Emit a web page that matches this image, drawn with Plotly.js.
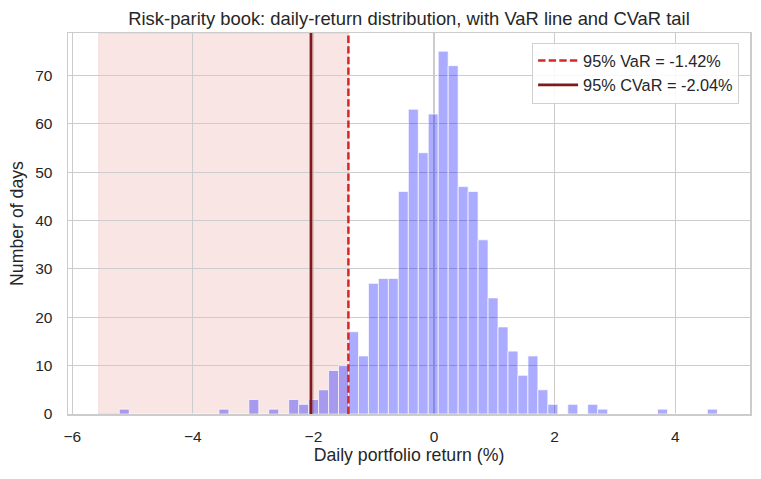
<!DOCTYPE html>
<html>
<head>
<meta charset="utf-8">
<script src="https://cdn.plot.ly/plotly-3.0.1.min.js"></script>
<style>html,body{margin:0;padding:0;background:#fff;}#chart{width:761px;height:479px;}</style>
</head>
<body>
<div id="chart"></div>
<script>
// Histogram: 60 equal-width bins of daily returns (%)
const binStart = -5.22;
const binWidth = 0.1653;
const binCounts = [
  1, 0, 0, 0, 0, 0, 0, 0, 0, 0,
  1, 0, 0, 3, 0, 1, 0, 3, 2, 3,
  5, 9, 10, 17, 12, 27, 28, 28, 46, 63,
  54, 62, 75, 72, 47, 46, 36, 24, 18, 13,
  8, 12, 5, 2, 0, 2, 0, 2, 1, 0,
  0, 0, 0, 0, 1, 0, 0, 0, 0, 1
];
const varLevel = -1.42;
const cvarLevel = -2.04;
const tailShadeStart = -5.56;
const legendLabels = ["95% VaR = -1.42%", "95% CVaR = -2.04%"];
const xTicks = [-6, -4, -2, 0, 2, 4];
const yTicks = [0, 10, 20, 30, 40, 50, 60, 70];
const xRange = [-6.07, 5.24];
const yRange = [0, 78.75];

const binCenters = binCounts.map((_, k) => binStart + binWidth * (k + 0.5));
const font = "Liberation Sans, Arial, sans-serif";
const txt = "#262626";

const traces = [
  {
    type: "bar",
    x: binCenters,
    y: binCounts,
    width: binWidth,
    marker: {color: "rgba(0,0,255,0.33)", line: {color: "rgba(255,255,255,0.7)", width: 1}},
    showlegend: false,
    hoverinfo: "x+y"
  },
  {
    type: "scatter", mode: "lines",
    x: [varLevel, varLevel], y: yRange,
    line: {color: "#d62728", width: 2.5, dash: "7.4px,3.2px"},
    name: legendLabels[0]
  },
  {
    type: "scatter", mode: "lines",
    x: [cvarLevel, cvarLevel], y: yRange,
    line: {color: "#7f1a1a", width: 2.8},
    name: legendLabels[1]
  }
];

const layout = {
  width: 761, height: 479,
  margin: {l: 68, r: 11, t: 33, b: 65},
  paper_bgcolor: "#ffffff",
  plot_bgcolor: "#ffffff",
  font: {family: font, color: txt, size: 15},
  title: {
    text: "Risk-parity book: daily-return distribution, with VaR line and CVaR tail",
    font: {family: font, size: 18.4, color: txt},
    xref: "paper", x: 0.5, xanchor: "center", y: 0.962, yanchor: "middle"
  },
  xaxis: {
    range: xRange, tickvals: xTicks, ticktext: xTicks.map(v => v < 0 ? "\u2212" + Math.abs(v) : String(v)),
    showgrid: true, gridcolor: "#cccccc", gridwidth: 1.2,
    zeroline: false, showline: true, mirror: true, linecolor: "#cccccc", linewidth: 1.5,
    ticks: "", tickfont: {size: 15.5, color: txt}, ticklabelstandoff: 8,
    title: {text: "Daily portfolio return (%)", font: {size: 17.7, color: txt}, standoff: 2}
  },
  yaxis: {
    range: yRange, tickvals: yTicks,
    showgrid: true, gridcolor: "#cccccc", gridwidth: 1.2,
    zeroline: false, showline: true, mirror: true, linecolor: "#cccccc", linewidth: 1.5,
    ticks: "", tickfont: {size: 15.5, color: txt}, ticklabelstandoff: 11,
    title: {text: "Number of days", font: {size: 17.7, color: txt}, standoff: 7}
  },
  bargap: 0,
  shapes: [{
    type: "rect", layer: "between",
    xref: "x", yref: "paper",
    x0: tailShadeStart, x1: varLevel, y0: 0, y1: 1,
    fillcolor: "rgba(214,39,40,0.12)",
    line: {color: "rgba(214,39,40,0.12)", width: 1}
  }],
  legend: {
    x: 0.984, xanchor: "right", y: 0.975, yanchor: "top",
    bgcolor: "rgba(255,255,255,0.85)", bordercolor: "#d0d0d0", borderwidth: 1,
    font: {size: 16.3, color: txt}, tracegroupgap: 2, itemwidth: 40
  },
  showlegend: true
};

Plotly.newPlot("chart", traces, layout, {displayModeBar: false, staticPlot: true});
</script>
</body>
</html>
